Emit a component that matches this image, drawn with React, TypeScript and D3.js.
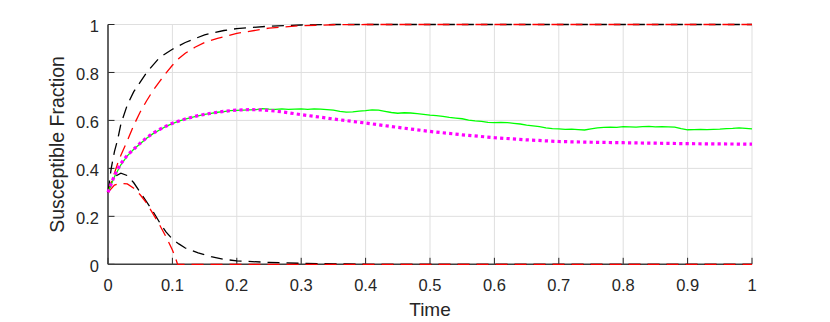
import React from "react";
import * as d3 from "d3";

const width = 830;
const height = 322;
const margin = { left: 108, right: 78, top: 24.5, bottom: 57.7 };

const xTicks = [0, 0.1, 0.2, 0.3, 0.4, 0.5, 0.6, 0.7, 0.8, 0.9, 1];
const yTicks = [0, 0.2, 0.4, 0.6, 0.8, 1];

// black dashed, rising branch
const blackUpTime = [0, 0.005, 0.01, 0.015, 0.02, 0.03, 0.04, 0.05, 0.06, 0.08, 0.1, 0.12, 0.15, 0.18, 0.2, 0.25, 0.3, 0.35, 1];
const blackUpValues = [0.3, 0.4, 0.47, 0.52, 0.585, 0.665, 0.72, 0.76, 0.8, 0.862, 0.897, 0.925, 0.957, 0.975, 0.983, 0.993, 0.998, 1, 1];

// red dashed, rising branch
const redUpTime = [0, 0.005, 0.01, 0.015, 0.02, 0.03, 0.04, 0.05, 0.06, 0.07, 0.08, 0.09, 0.1, 0.11, 0.12, 0.135, 0.15, 0.17, 0.2, 0.25, 0.3, 0.35, 0.4, 1];
const redUpValues = [0.3, 0.34, 0.38, 0.42, 0.455, 0.515, 0.58, 0.635, 0.682, 0.725, 0.762, 0.797, 0.83, 0.858, 0.88, 0.905, 0.925, 0.942, 0.963, 0.985, 0.995, 0.999, 1, 1];

// black dashed, falling branch
const blackDownTime = [0, 0.005, 0.01, 0.02, 0.03, 0.04, 0.05, 0.06, 0.07, 0.08, 0.09, 0.1, 0.11, 0.12, 0.14, 0.16, 0.18, 0.2, 0.25, 0.3, 0.35, 0.4, 1];
const blackDownValues = [0.3, 0.34, 0.365, 0.38, 0.37, 0.34, 0.3, 0.26, 0.22, 0.175, 0.135, 0.105, 0.085, 0.068, 0.048, 0.032, 0.021, 0.014, 0.008, 0.004, 0.002, 0, 0];

// red dashed, falling branch
const redDownTime = [0, 0.01, 0.02, 0.03, 0.04, 0.05, 0.06, 0.07, 0.08, 0.09, 0.1, 0.105, 0.108, 1];
const redDownValues = [0.3, 0.33, 0.338, 0.335, 0.317, 0.29, 0.255, 0.21, 0.165, 0.115, 0.06, 0.025, 0, 0];

// magenta dotted (mean field)
const magentaTime = [0, 0.01, 0.02, 0.03, 0.04, 0.05, 0.06, 0.07, 0.08, 0.09, 0.1, 0.12, 0.14, 0.16, 0.18, 0.2, 0.22, 0.24, 0.26, 0.28, 0.3, 0.32, 0.35, 0.4, 0.45, 0.5, 0.55, 0.6, 0.65, 0.7, 0.75, 0.8, 0.85, 0.9, 0.95, 1];
const magentaValues = [0.3, 0.37, 0.42, 0.455, 0.48, 0.505, 0.528, 0.547, 0.562, 0.576, 0.588, 0.606, 0.62, 0.63, 0.638, 0.643, 0.645, 0.644, 0.639, 0.632, 0.624, 0.617, 0.606, 0.589, 0.571, 0.554, 0.54, 0.528, 0.519, 0.512, 0.509, 0.507, 0.505, 0.503, 0.502, 0.501];

// green solid (simulation), sampled every 0.01
const greenValues = [
  0.3, 0.365, 0.415, 0.452, 0.48, 0.503, 0.526, 0.545, 0.56, 0.575,
  0.587, 0.597, 0.605, 0.613, 0.619, 0.625, 0.629, 0.634, 0.637, 0.641,
  0.642, 0.643, 0.644, 0.645, 0.649, 0.647, 0.646, 0.648, 0.646, 0.647,
  0.648, 0.646, 0.648, 0.647, 0.645, 0.643, 0.638, 0.635, 0.636, 0.639,
  0.641, 0.644, 0.643, 0.638, 0.633, 0.63, 0.632, 0.631, 0.628, 0.625,
  0.622, 0.62, 0.617, 0.613, 0.61, 0.607, 0.601, 0.598, 0.596, 0.592,
  0.591, 0.592, 0.591, 0.588, 0.585, 0.58, 0.577, 0.574, 0.569, 0.566,
  0.565, 0.563, 0.564, 0.562, 0.56, 0.565, 0.569, 0.571, 0.572, 0.571,
  0.574, 0.573, 0.572, 0.574, 0.575, 0.573, 0.574, 0.573, 0.572, 0.566,
  0.561, 0.562, 0.563, 0.562, 0.563, 0.564, 0.566, 0.567, 0.569, 0.567,
  0.565,
];
const greenTime = greenValues.map((_, i) => i / 100);

const font = "'Liberation Sans', Arial, Helvetica, sans-serif";
const axisColor = "#262626";

export default function App() {
  const x = d3.scaleLinear().domain([0, 1]).range([margin.left, width - margin.right]);
  const y = d3.scaleLinear().domain([0, 1]).range([height - margin.bottom, margin.top]);

  const line = (ts: number[], vs: number[]) =>
    d3
      .line<number>()
      .x((_, i) => x(ts[i]))
      .y((d) => y(d))(vs) || "";

  const series = [
    { t: blackUpTime, v: blackUpValues, color: "#000000", dash: "12 7", w: 1.3 },
    { t: blackDownTime, v: blackDownValues, color: "#000000", dash: "12 7", w: 1.3 },
    { t: redUpTime, v: redUpValues, color: "#ff0000", dash: "12 7", w: 1.3 },
    { t: redDownTime, v: redDownValues, color: "#ff0000", dash: "12 7", w: 1.3 },
    { t: greenTime, v: greenValues, color: "#00ff00", dash: undefined, w: 1.3 },
    { t: magentaTime, v: magentaValues, color: "#ff00ff", dash: "3.2 3.2", w: 3.2 },
  ];

  const x0 = x(0);
  const x1 = x(1);
  const y0 = y(0);
  const y1 = y(1);

  return (
    <div style={{ position: "absolute", left: 0, top: 0 }}>
      <svg width={width} height={height} style={{ display: "block", background: "#fff" }}>
        {/* grid */}
        {xTicks.map((t) => (
          <line key={"gx" + t} x1={x(t)} x2={x(t)} y1={y1} y2={y0} stroke="#dfdfdf" strokeWidth={1} />
        ))}
        {yTicks.map((t) => (
          <line key={"gy" + t} x1={x0} x2={x1} y1={y(t)} y2={y(t)} stroke="#dfdfdf" strokeWidth={1} />
        ))}

        {/* ticks */}
        {xTicks.map((t) => (
          <line key={"tx" + t} x1={x(t)} x2={x(t)} y1={y0} y2={y0 - 6.5} stroke={axisColor} strokeWidth={1} />
        ))}
        {yTicks.map((t) => (
          <line key={"ty" + t} x1={x0} x2={x0 + 6.5} y1={y(t)} y2={y(t)} stroke={axisColor} strokeWidth={1} />
        ))}

        {/* axes */}
        <line x1={x0} x2={x0} y1={y1} y2={y0} stroke="#404040" strokeWidth={1.6} />
        <line x1={x0} x2={x1} y1={y0} y2={y0} stroke="#404040" strokeWidth={1.6} />

        {/* curves */}
        {series.map((s, i) => (
          <path
            key={i}
            d={line(s.t, s.v)}
            fill="none"
            stroke={s.color}
            strokeWidth={s.w}
            strokeDasharray={s.dash}
          />
        ))}

        {/* tick labels */}
        {xTicks.map((t) => (
          <text
            key={"lx" + t}
            x={x(t)}
            y={y0 + 26.4}
            textAnchor="middle"
            fontFamily={font}
            fontSize={16.5}
            fill={axisColor}
          >
            {d3.format("~g")(t)}
          </text>
        ))}
        {yTicks.map((t) => (
          <text
            key={"ly" + t}
            x={x0 - 9}
            y={y(t) + 7.5}
            textAnchor="end"
            fontFamily={font}
            fontSize={16.5}
            fill={axisColor}
          >
            {d3.format("~g")(t)}
          </text>
        ))}

        {/* axis labels */}
        <text x={(x0 + x1) / 2} y={y0 + 52} textAnchor="middle" fontFamily={font} fontSize={19} fill={axisColor}>
          Time
        </text>
        <text
          transform={`translate(${64}, ${(y0 + y1) / 2}) rotate(-90)`}
          textAnchor="middle"
          fontFamily={font}
          fontSize={19.5}
          fill={axisColor}
        >
          Susceptible Fraction
        </text>
      </svg>
    </div>
  );
}
